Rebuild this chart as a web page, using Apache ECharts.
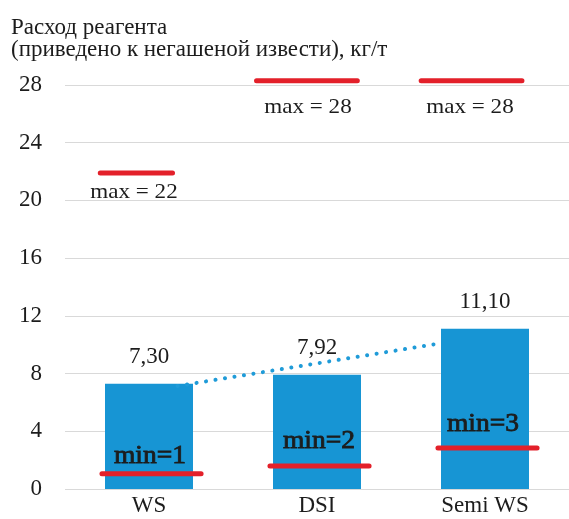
<!DOCTYPE html>
<html>
<head>
<meta charset="utf-8">
<script src="https://cdn.jsdelivr.net/npm/echarts@6/dist/echarts.min.js"></script>
<style>
  html, body { margin: 0; padding: 0; background: #fff; }
  #chart { width: 569px; height: 519px; }
</style>
</head>
<body>
<div id="chart"></div>
<script>
const categories = ['WS', 'DSI', 'Semi WS']
const values = [7.30, 7.92, 11.10]
const valueLabels = ['7,30', '7,92', '11,10']
const maxValues = [22, 28, 28]
const minValues = [1, 2, 3]
// where the red marks sit on the value axis
const maxLevels = [21.9, 28.3, 28.3]
const minLevels = [1.05, 1.6, 2.85]
// dotted trend line, start and end values
const trendValues = [7.14, 10.05]

// layout of the annotations (category units / pixels)
const maxSpans = [[-0.29, 0.14], [-0.36, 0.24], [-0.38, 0.22]]
const maxLabelOffsets = [[-15, 19], [-9, 27], [-15, 27]]
const minSpan = [-0.28, 0.31]
const minLabelOffsets = [[1, -17], [2, -24], [-2, -23]]
const trendX = [0.17, 1.71]

const FONT = '"Liberation Serif", "DejaVu Serif", serif'
const TEXT = '#1c1c1c'
const RED = '#e3202a'
const STRETCH = 1.1

const chart = echarts.init(document.getElementById('chart'))

function marks(labels, spanFor, offsets, font, heavy) {
    return (params, api) => {
        const i = api.value(0)
        const lvl = api.value(1)
        const span = spanFor(i)
        const p0 = api.coord([i + span[0], lvl])
        const p1 = api.coord([i + span[1], lvl])
        const c = api.coord([i, lvl])
        return {
            type: 'group',
            children: [
                {
                    type: 'line',
                    shape: { x1: p0[0], y1: p0[1], x2: p1[0], y2: p1[1] },
                    style: { stroke: RED, lineWidth: 5, lineCap: 'round' },
                },
                {
                    type: 'text',
                    x: c[0] + offsets[i][0],
                    y: c[1] + offsets[i][1],
                    scaleX: STRETCH,
                    style: {
                        text: labels[i],
                        font: font,
                        fill: TEXT,
                        align: 'center',
                        verticalAlign: 'middle',
                        stroke: heavy ? TEXT : null,
                        lineWidth: heavy ? 0.8 : 0,
                    },
                },
            ],
        }
    }
}

const option = {
    animation: false,
    title: {
        text: 'Расход реагента\n(приведено к негашеной извести), кг/т',
        left: 6,
        top: 12,
        textStyle: {
            fontFamily: FONT,
            fontSize: 23,
            fontWeight: 'normal',
            lineHeight: 22,
            color: TEXT,
        },
    },
    grid: { left: 65, right: 0, top: 85, bottom: 30 },
    xAxis: [
        {
            type: 'category',
            data: categories,
            axisLine: { show: false },
            axisTick: { show: false },
            axisLabel: { fontFamily: FONT, fontSize: 23, color: TEXT, margin: 5 },
        },
        { type: 'value', min: -0.5, max: 2.5, show: false, position: 'top' },
    ],
    yAxis: {
        type: 'value',
        min: 0,
        max: 28,
        interval: 4,
        axisLine: { show: false },
        axisTick: { show: false },
        axisLabel: { fontFamily: FONT, fontSize: 23, color: TEXT, margin: 23 },
        splitLine: { lineStyle: { color: '#d9d9d9', width: 1 } },
    },
    series: [
        {
            type: 'bar',
            data: values,
            barWidth: 88,
            itemStyle: { color: '#1795d4' },
            label: {
                show: true,
                position: 'top',
                distance: 15,
                fontFamily: FONT,
                fontSize: 23,
                color: TEXT,
                formatter: (p) => valueLabels[p.dataIndex],
            },
            z: 2,
        },
        {
            type: 'line',
            xAxisIndex: 1,
            data: trendX.map((x, k) => [x, trendValues[k]]),
            showSymbol: false,
            lineStyle: { color: '#1f9bd8', width: 4, type: [0.1, 9.5], cap: 'round' },
            z: 3,
        },
        {
            type: 'custom',
            xAxisIndex: 1,
            clip: false,
            data: maxLevels.map((v, i) => [i, v]),
            renderItem: marks(maxValues.map((v) => 'max = ' + v),
                (i) => maxSpans[i], maxLabelOffsets, '21px ' + FONT, false),
            z: 4,
        },
        {
            type: 'custom',
            xAxisIndex: 1,
            clip: false,
            data: minLevels.map((v, i) => [i, v]),
            renderItem: marks(minValues.map((v) => 'min=' + v),
                () => minSpan, minLabelOffsets, '25px ' + FONT, true),
            z: 4,
        },
    ],
}

chart.setOption(option)
</script>
</body>
</html>
